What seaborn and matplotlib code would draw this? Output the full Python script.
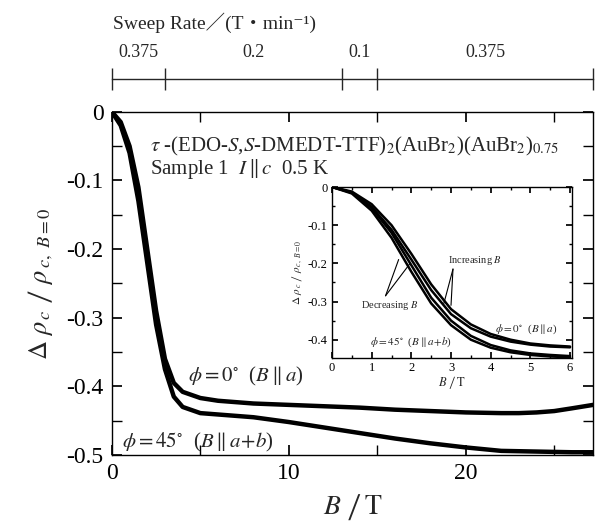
import numpy as np
import pandas as pd
import matplotlib
matplotlib.use("Agg")
import matplotlib.pyplot as plt
from matplotlib.ticker import MultipleLocator, FixedLocator, FixedFormatter, NullFormatter, FuncFormatter
import seaborn as sns

# main panel: field sweep up to ~27 T
main_b = [0, 0.5, 1, 1.5, 2, 2.5, 3, 3.5, 4, 5, 6, 8, 10, 12, 14, 16, 18, 20, 22, 23, 24, 25, 26, 27.2]
main_phi0 = [0, -0.015, -0.05, -0.11, -0.20, -0.29, -0.36, -0.395, -0.408, -0.417, -0.421, -0.425,
             -0.427, -0.429, -0.431, -0.434, -0.436, -0.438, -0.439, -0.439, -0.438, -0.436, -0.432, -0.427]
main_b45 = [0, 0.5, 1, 1.5, 2, 2.5, 3, 3.5, 4, 5, 6, 8, 10, 12, 14, 16, 18, 20, 22, 24, 26, 27.2]
main_phi45 = [0, -0.02, -0.06, -0.13, -0.22, -0.31, -0.375, -0.415, -0.43, -0.439, -0.441, -0.445,
              -0.452, -0.46, -0.468, -0.476, -0.483, -0.489, -0.494, -0.495, -0.496, -0.496]

# inset: low field region, up and down sweeps
inset_b = [0, 0.5, 1, 1.5, 2, 2.5, 3, 3.5, 4, 4.5, 5, 5.5, 6]
phi0_up = [0, -0.012, -0.045, -0.10, -0.175, -0.255, -0.32, -0.36, -0.385, -0.40, -0.41, -0.415, -0.418]
phi0_down = [0, -0.014, -0.052, -0.112, -0.19, -0.27, -0.333, -0.37, -0.392, -0.405, -0.413, -0.418, -0.42]
phi45_up = [0, -0.015, -0.055, -0.12, -0.205, -0.29, -0.35, -0.39, -0.414, -0.428, -0.436, -0.44, -0.443]
phi45_down = [0, -0.017, -0.062, -0.133, -0.222, -0.305, -0.362, -0.40, -0.421, -0.433, -0.44, -0.444, -0.446]

# sweep rate segments (T/min) along the top
sweep_edges = [0, 3, 13, 15, 27.2]
sweep_rates = ["0.375", "0.2", "0.1", "0.375"]

sns.set_theme(style="ticks")
plt.rcParams['font.family'] = ['Liberation Serif', 'Noto Sans CJK JP', 'DejaVu Sans']
plt.rcParams['mathtext.fontset'] = 'stix'
plt.rcParams['axes.linewidth'] = 1.0

fmt = FuncFormatter(lambda v, p: "0" if abs(v) < 1e-9 else f"{v:.1f}")
ylab = r"$\Delta\ \rho_{\,c}\ ∕\ \rho_{\,c,\ B=0}$"
xlab = r"$B\ ∕\,\mathrm{T}$"

fig = plt.figure(figsize=(5.95, 5.24), dpi=100)
ax = fig.add_axes([0.188, 0.1317, 0.809, 0.655])

df0 = pd.DataFrame({"B": main_b, "v": main_phi0})
df45 = pd.DataFrame({"B": main_b45, "v": main_phi45})
sns.lineplot(data=df0, x="B", y="v", ax=ax, color="black", lw=3.2)
sns.lineplot(data=df45, x="B", y="v", ax=ax, color="black", lw=3.2)

ax.set_xlim(0, 27.2)
ax.set_ylim(-0.5, 0)
ax.xaxis.set_major_locator(MultipleLocator(10))
ax.xaxis.set_minor_locator(MultipleLocator(5))
ax.yaxis.set_major_locator(MultipleLocator(0.1))
ax.yaxis.set_minor_locator(MultipleLocator(0.05))
ax.yaxis.set_major_formatter(fmt)
ax.tick_params(which="both", direction="in", top=True, right=True, labelsize=17, colors="black")
ax.tick_params(which="major", length=7, pad=6)
ax.tick_params(which="minor", length=7)
ax.set_xlabel(xlab, fontsize=20, labelpad=6)
ax.set_ylabel(ylab, fontsize=19, labelpad=8)
for s in ax.spines.values():
    s.set_color("black")

ax.text(2.15, -0.05, r"$\tau$ -(EDO-$S$,$S$-DMEDT-TTF)$_2$(AuBr$_2$)(AuBr$_2$)$_{0.75}$", fontsize=15, va="center")
ax.text(2.15, -0.083, r"Sample 1  $I\,\Vert\,c$  0.5 K", fontsize=15, va="center")
ax.text(4.3, -0.385, r"$\phi = 0^{\circ}$  ($B\parallel a$)", fontsize=15, va="center")
ax.text(0.55, -0.482, r"$\phi = 45^{\circ}$  ($B\parallel a\!+\!b$)", fontsize=15, va="center")

# sweep rate axis above the panel
sec = ax.secondary_xaxis(1.096)
sec.spines["top"].set_linewidth(1.0)
sec.xaxis.set_major_locator(FixedLocator(sweep_edges))
sec.xaxis.set_major_formatter(NullFormatter())
centers = [(sweep_edges[i] + sweep_edges[i + 1]) / 2 for i in range(len(sweep_rates))]
sec.xaxis.set_minor_locator(FixedLocator(centers))
sec.xaxis.set_minor_formatter(FixedFormatter(sweep_rates))
sec.tick_params(which="major", direction="inout", length=16, width=1.0)
sec.tick_params(which="minor", length=0, labelsize=13, pad=13)
fig.text(113 / 595, 1 - 23 / 524, "Sweep Rate／(T・min⁻¹)", fontsize=14, ha="left", va="center")

# inset
ins = fig.add_axes([332 / 595, 1 - 358 / 524, 240 / 595, 171 / 524])
ins.set_facecolor("white")
for yy in [phi0_up, phi0_down, phi45_up, phi45_down]:
    sns.lineplot(x=inset_b, y=yy, ax=ins, color="black", lw=1.8)
ins.set_xlim(0, 6.05)
ins.set_ylim(-0.448, 0)
ins.xaxis.set_major_locator(MultipleLocator(1))
ins.xaxis.set_minor_locator(MultipleLocator(0.5))
ins.yaxis.set_major_locator(MultipleLocator(0.1))
ins.yaxis.set_minor_locator(MultipleLocator(0.05))
ins.yaxis.set_major_formatter(fmt)
ins.tick_params(which="both", direction="in", top=True, right=True, labelsize=9, colors="black", pad=3)
ins.tick_params(which="major", length=4)
ins.tick_params(which="minor", length=2.5)
ins.set_xlabel(xlab, fontsize=9, labelpad=0)
ins.set_ylabel(ylab, fontsize=8, labelpad=2)
for s in ins.spines.values():
    s.set_color("black")

ins.text(3.6, -0.21, "Increasing $B$", fontsize=7.5, ha="center", va="bottom")
ins.plot([3.05, 2.82], [-0.215, -0.305], color="black", lw=0.8)
ins.plot([3.05, 3.0], [-0.215, -0.31], color="black", lw=0.8)
ins.text(1.45, -0.31, "Decreasing $B$", fontsize=7.5, ha="center", va="center")
ins.plot([1.35, 1.68], [-0.285, -0.19], color="black", lw=0.8)
ins.plot([1.35, 1.97], [-0.285, -0.2], color="black", lw=0.8)
ins.text(4.1, -0.372, r"$\phi = 0^{\circ}$  ($B\parallel a$)", fontsize=8, va="center")
ins.text(0.95, -0.408, r"$\phi = 45^{\circ}$  ($B\parallel a\!+\!b$)", fontsize=8, va="center")

fig.savefig("out.png", dpi=100)
